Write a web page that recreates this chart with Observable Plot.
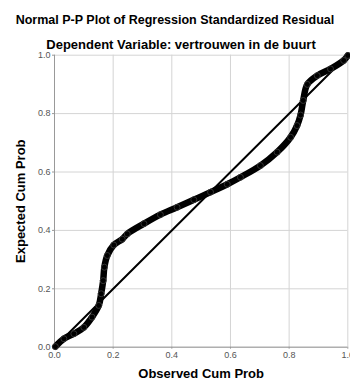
<!DOCTYPE html>
<html>
<head>
<meta charset="utf-8">
<script src="https://cdn.jsdelivr.net/npm/d3@7"></script>
<script src="https://cdn.jsdelivr.net/npm/@observablehq/plot@0.6"></script>
<style>
  html, body { margin: 0; padding: 0; background: #fff; }
  #wrap { position: relative; width: 350px; height: 383px; overflow: hidden; font-family: "Liberation Sans", Arial, sans-serif; }
  .t { position: absolute; left: 0; width: 350px; text-align: center; font-weight: bold; color: #000; white-space: nowrap; }
  #title { top: 13px; font-size: 12.5px; }
  #subtitle { top: 37px; font-size: 13px; left: 6px; }
  #chart { position: absolute; left: 0; top: 0; }
</style>
</head>
<body>
<div id="wrap">
  <div id="chart"></div>
  <div class="t" id="title">Normal P-P Plot of Regression Standardized Residual</div>
  <div class="t" id="subtitle">Dependent Variable: vertrouwen in de buurt</div>
</div>
<script>
const observed = [0.003, 0.032, 0.066, 0.1, 0.128, 0.151, 0.159, 0.166, 0.17, 0.18, 0.202, 0.231, 0.248, 0.305, 0.361, 0.418, 0.475, 0.532, 0.589, 0.634, 0.702, 0.759, 0.805, 0.827, 0.839, 0.848, 0.862, 0.896, 0.941, 0.986, 1.0];
const expected = [0.002, 0.029, 0.046, 0.068, 0.103, 0.143, 0.183, 0.228, 0.274, 0.314, 0.35, 0.37, 0.388, 0.423, 0.454, 0.479, 0.505, 0.531, 0.558, 0.582, 0.622, 0.668, 0.719, 0.759, 0.795, 0.845, 0.9, 0.93, 0.953, 0.982, 0.999];
const diagonal = [0, 1];
const ticks = [0, 0.2, 0.4, 0.6, 0.8, 1.0];

const pts = observed.map((x, i) => ({x, y: expected[i]}));

const chart = Plot.plot({
  width: 350,
  height: 383,
  marginLeft: 54,
  marginRight: 2.7,
  marginTop: 54.7,
  marginBottom: 36.3,
  style: {fontFamily: "'Liberation Sans', Arial, sans-serif", background: "#fff"},
  x: {domain: [0, 1], ticks: ticks, tickFormat: d3.format(".1f"), label: null},
  y: {domain: [0, 1], ticks: ticks, tickFormat: d3.format(".1f"), label: null},
  marks: [
    Plot.gridX(ticks, {stroke: "#d4d4d4", strokeOpacity: 1, strokeWidth: 1}),
    Plot.gridY(ticks, {stroke: "#d4d4d4", strokeOpacity: 1, strokeWidth: 1}),
    Plot.ruleX([0], {stroke: "#999", strokeWidth: 1}),
    Plot.ruleY([0], {stroke: "#999", strokeWidth: 1}),
    Plot.axisX(ticks, {tickSize: 2, tickPadding: 2, fontSize: 9, fill: "#555", stroke: "#999", tickFormat: d3.format(".1f"), label: null}),
    Plot.axisY(ticks, {tickSize: 2, tickPadding: 2, fontSize: 9, fill: "#555", stroke: "#999", tickFormat: d3.format(".1f"), label: null}),
    Plot.line(diagonal, {x: d => d, y: d => d, stroke: "#000", strokeWidth: 2}),
    Plot.line(pts, {x: "x", y: "y", stroke: "#000", strokeWidth: 6.5, strokeLinejoin: "round", strokeLinecap: "round", curve: "catmull-rom"}),
    Plot.dot(pts, {x: "x", y: "y", r: 3, stroke: "#333", strokeWidth: 1, fill: "none"}),
    Plot.text(["Expected Cum Prob"], {frameAnchor: "left", textAnchor: "middle", dx: -34, rotate: -90, fontSize: 13, fontWeight: "bold", fill: "#000"}),
    Plot.text(["Observed Cum Prob"], {frameAnchor: "bottom", textAnchor: "middle", dy: 31, fontSize: 13, fontWeight: "bold", fill: "#000"})
  ]
});
document.getElementById("chart").appendChild(chart);
</script>
</body>
</html>
